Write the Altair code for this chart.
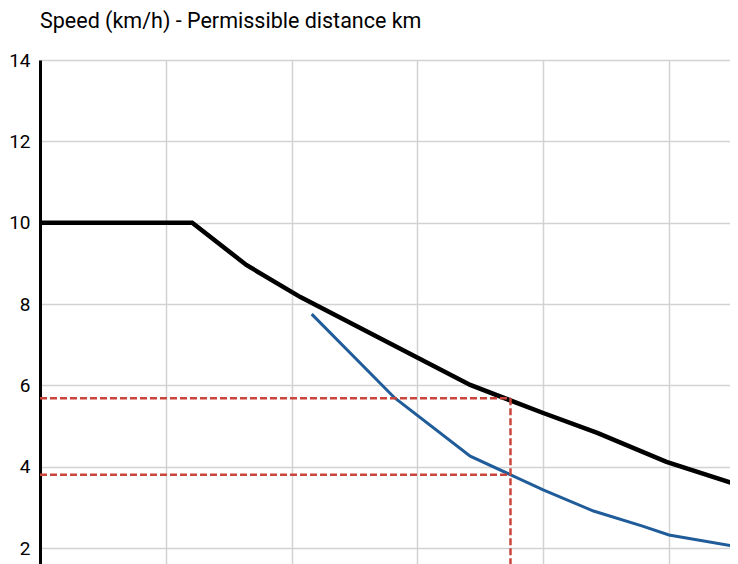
import altair as alt
import pandas as pd

# Black curve: permissible distance limit
limit_x = [0, 12.1, 16.4, 20.7, 34.2, 40.0, 44.3, 49.8, 55.5]
limit_y = [10.0, 10.0, 8.96, 8.17, 6.01, 5.32, 4.83, 4.12, 3.55]
# Blue curve
blue_x = [21.6, 28.2, 34.2, 40.0, 44.0, 47.9, 50.0, 55.5]
blue_y = [7.75, 5.69, 4.26, 3.43, 2.91, 2.54, 2.32, 2.03]
# Red dashed reading lines
marker_x = 37.4
marker_upper = 5.68
marker_lower = 3.80
y_ticks = [2, 4, 6, 8, 10, 12, 14]
x_grid = [0, 10, 20, 30, 40, 50]
title_text = ["Speed (km/h) - Permissible distance km"]

X_DOMAIN = [0, 54.85]
Y_DOMAIN = [1.607, 14]
FONT = "Roboto"

black_df = pd.DataFrame({"x": limit_x, "y": limit_y})
blue_df = pd.DataFrame({"x": blue_x, "y": blue_y})
h_df = pd.DataFrame({"x": [0, 0], "x2": [marker_x, marker_x],
                     "y": [marker_upper, marker_lower]})
v_df = pd.DataFrame({"x": [marker_x], "y": [marker_upper], "y2": [0.0]})
t_df = pd.DataFrame({"t": title_text})

xs = alt.Scale(domain=X_DOMAIN, nice=False, zero=False)
ys = alt.Scale(domain=Y_DOMAIN, nice=False, zero=False)
x_axis = alt.Axis(values=x_grid, grid=True, labels=False, ticks=False, domain=False,
                  title=None, gridColor="#d2d2d2", gridWidth=1.5)
y_axis = alt.Axis(values=y_ticks, grid=True, gridColor="#d2d2d2", gridWidth=1.5,
                  domain=True, domainColor="black", domainWidth=3, ticks=False,
                  labelFont=FONT, labelFontSize=19, labelColor="black",
                  labelPadding=10, title=None)

X = alt.X("x:Q", scale=xs, axis=x_axis)
Y = alt.Y("y:Q", scale=ys, axis=y_axis)

black = alt.Chart(black_df).mark_line(color="black", strokeWidth=4.5, clip=True).encode(x=X, y=Y)

blue = alt.Chart(blue_df).mark_line(color="#1f5c99", strokeWidth=3, clip=True).encode(x=X, y=Y)

hlines = alt.Chart(h_df).mark_rule(color="#c9463d", strokeWidth=2.5,
                                   strokeDash=[7, 3], clip=True).encode(x=X, x2="x2:Q", y=Y)

vline = alt.Chart(v_df).mark_rule(color="#c9463d", strokeWidth=2.5,
                                  strokeDash=[7, 3], clip=True).encode(x=X, y=Y, y2="y2:Q")

title = alt.Chart(t_df).mark_text(font=FONT, fontSize=21.5, color="black", align="left",
                                  baseline="alphabetic").encode(
    text="t:N", x=alt.value(0), y=alt.value(-32))

chart = alt.layer(black, blue, hlines, vline, title).properties(
    width=690,
    height=504,
    padding={"left": 32, "top": 52, "right": 0, "bottom": 8},
    autosize=alt.AutoSizeParams(type="none"),
).configure_view(stroke=None)

chart.save("out.html", embed_options={"renderer": "svg", "actions": False})
